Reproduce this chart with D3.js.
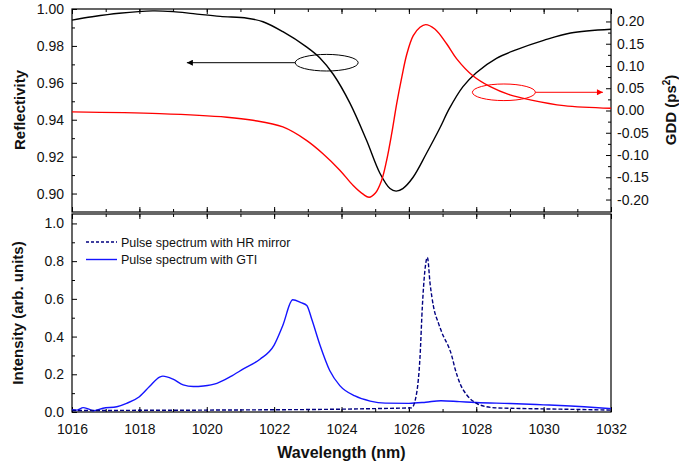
<!DOCTYPE html>
<html>
<head>
<meta charset="utf-8">
<script src="https://cdn.jsdelivr.net/npm/d3@7"></script>
<style>
  body { margin: 0; background: #fff; }
  svg text { font-family: "Liberation Sans", Arial, sans-serif; fill: #111; }
</style>
</head>
<body>
<div id="chart"></div>
<script>
// top panel: mirror reflectivity and GDD
const reflWl  = [1016, 1016.6, 1017.4, 1018.4, 1019.0, 1019.6, 1020.4, 1021.2, 1021.67, 1022.26, 1022.96, 1023.36, 1023.76, 1024.25, 1024.74, 1025.14, 1025.44, 1025.62, 1025.82, 1026.12, 1026.52, 1026.92, 1027.2, 1027.6, 1028.0, 1028.6, 1029.2, 1030.0, 1030.8, 1032];
const reflVal = [0.994, 0.9958, 0.9977, 0.999, 0.9986, 0.9975, 0.996, 0.995, 0.9931, 0.9877, 0.9795, 0.9735, 0.9645, 0.949, 0.929, 0.911, 0.9027, 0.9013, 0.9027, 0.9087, 0.9217, 0.9355, 0.946, 0.9578, 0.9655, 0.9733, 0.978, 0.983, 0.987, 0.989];

const gddWl  = [1016, 1018.6, 1020.6, 1021.37, 1022.26, 1022.96, 1023.45, 1023.95, 1024.34, 1024.64, 1024.82, 1025.0, 1025.19, 1025.34, 1025.49, 1025.64, 1025.79, 1025.94, 1026.13, 1026.33, 1026.5, 1026.77, 1027.12, 1027.42, 1027.9, 1028.4, 1029.0, 1029.6, 1030.6, 1032];
const gddVal = [-0.003, -0.007, -0.015, -0.022, -0.037, -0.067, -0.097, -0.134, -0.168, -0.188, -0.195, -0.186, -0.157, -0.112, -0.052, 0.016, 0.075, 0.127, 0.168, 0.187, 0.193, 0.183, 0.150, 0.116, 0.078, 0.054, 0.035, 0.024, 0.011, 0.005];

// bottom panel: pulse spectra
const hrWl  = [1016, 1017, 1018, 1019, 1020, 1021, 1022, 1023, 1024, 1025, 1025.6, 1026.08, 1026.23, 1026.33, 1026.4, 1026.47, 1026.55, 1026.63, 1026.73, 1026.88, 1027.03, 1027.17, 1027.27, 1027.37, 1027.52, 1027.72, 1028.01, 1028.3, 1028.6, 1029.5, 1030.5, 1031.5, 1032];
const hrVal = [0.008, 0.008, 0.009, 0.009, 0.01, 0.011, 0.012, 0.013, 0.015, 0.018, 0.02, 0.022, 0.10, 0.29, 0.56, 0.74, 0.82, 0.68, 0.56, 0.47, 0.40, 0.35, 0.30, 0.23, 0.15, 0.09, 0.046, 0.028, 0.022, 0.018, 0.015, 0.012, 0.01];

const gtiWl  = [1016, 1016.15, 1016.33, 1016.5, 1016.63, 1016.92, 1017.33, 1017.62, 1018.0, 1018.3, 1018.6, 1018.7, 1019.0, 1019.3, 1019.6, 1019.9, 1020.3, 1020.7, 1021.1, 1021.58, 1022.0, 1022.26, 1022.55, 1022.8, 1022.97, 1023.12, 1023.36, 1023.65, 1023.95, 1024.4, 1024.85, 1025.3, 1026.0, 1026.5, 1026.95, 1027.5, 1028.0, 1029.0, 1030.0, 1030.8, 1031.2, 1032];
const gtiVal = [0.012, 0.01, 0.023, 0.015, 0.007, 0.02, 0.028, 0.046, 0.081, 0.135, 0.185, 0.19, 0.174, 0.144, 0.135, 0.138, 0.152, 0.187, 0.23, 0.28, 0.355, 0.46, 0.595, 0.58, 0.565, 0.49, 0.355, 0.22, 0.14, 0.085, 0.058, 0.047, 0.046, 0.052, 0.06, 0.055, 0.05, 0.045, 0.038, 0.032, 0.028, 0.018];

const wlTicks   = [1016, 1018, 1020, 1022, 1024, 1026, 1028, 1030, 1032];
const reflTicks = [0.90, 0.92, 0.94, 0.96, 0.98, 1.00];
const gddTicks  = [-0.20, -0.15, -0.10, -0.05, 0.00, 0.05, 0.10, 0.15, 0.20];
const intTicks  = [0.0, 0.2, 0.4, 0.6, 0.8, 1.0];
const legendLabels = ["Pulse spectrum with HR mirror", "Pulse spectrum with GTI"];

const W = 679, H = 468;
const left = 72, right = 611;

const x  = d3.scaleLinear().domain([1016, 1032]).range([left, right]);
const yR = d3.scaleLinear().domain([0.89, 1.0]).range([212, 9]);
const yG = d3.scaleLinear().domain([-0.228, 0.228]).range([212, 9]);
const yI = d3.scaleLinear().domain([0, 1.05]).range([412, 214]);

const svg = d3.select("#chart").append("svg")
  .attr("width", W).attr("height", H);

function minorOf(ticks) {
  let out = [];
  for (let i = 0; i < ticks.length - 1; i++) out.push((ticks[i] + ticks[i+1]) / 2);
  return out;
}
const wlMinor = d3.range(1016, 1033, 1);

function drawAxis(axisFn, scale, major, minor, transform, fmt, showLabels, pad) {
  let gMin = svg.append("g").attr("transform", transform)
    .call(axisFn(scale).tickValues(minor).tickSize(-3).tickFormat(""));
  gMin.select(".domain").remove();
  let gMaj = svg.append("g").attr("transform", transform)
    .call(axisFn(scale).tickValues(major).tickSize(-5).tickPadding(pad || 5)
      .tickFormat(showLabels ? fmt : ""));
  gMaj.select(".domain").remove();
  gMaj.selectAll("text").style("font-size", "14px").attr("fill", "#111");
  svg.selectAll(".tick line").attr("stroke", "#000").attr("stroke-width", 1);
}

const f2 = d => d.toFixed(2);
const f1 = d => d.toFixed(1);
const f0 = d => d.toFixed(0);

// top panel axes
drawAxis(d3.axisLeft, yR, reflTicks, minorOf(reflTicks), `translate(${left},0)`, f2, true, 8);
drawAxis(d3.axisRight, yG, gddTicks, minorOf(gddTicks), `translate(${right},0)`, f2, true, 6);
drawAxis(d3.axisTop, x, wlTicks, wlMinor, `translate(0,9)`, f0, false);
drawAxis(d3.axisBottom, x, wlTicks, wlMinor, `translate(0,212)`, f0, false);

// bottom panel axes
drawAxis(d3.axisLeft, yI, intTicks, minorOf(intTicks), `translate(${left},0)`, f1, true, 8);
drawAxis(d3.axisBottom, x, wlTicks, wlMinor, `translate(0,412)`, f0, true, 12);
drawAxis(d3.axisTop, x, wlTicks, wlMinor, `translate(0,214)`, f0, false);

// frames
svg.append("rect").attr("x", left).attr("y", 9).attr("width", right - left).attr("height", 203)
  .attr("fill", "none").attr("stroke", "#000").attr("stroke-width", 1.2);
svg.append("rect").attr("x", left).attr("y", 214).attr("width", right - left).attr("height", 198)
  .attr("fill", "none").attr("stroke", "#000").attr("stroke-width", 1.2);

// curves
function curve(wl, vals, yScale, color, dash, interp) {
  const pts = wl.map((w, i) => [w, vals[i]]);
  const line = d3.line().x(d => x(d[0])).y(d => yScale(d[1])).curve(interp || d3.curveMonotoneX);
  svg.append("path").datum(pts).attr("d", line)
    .attr("fill", "none").attr("stroke", color).attr("stroke-width", 1.4)
    .attr("stroke-dasharray", dash || null);
}
curve(reflWl, reflVal, yR, "#000", null, d3.curveCatmullRom.alpha(0.5));
curve(gddWl, gddVal, yG, "#ff0000", null, d3.curveCatmullRom.alpha(0.5));
curve(gtiWl, gtiVal, yI, "#1414ff");
curve(hrWl, hrVal, yI, "#000080", "4,2");

// arrow markers
const defs = svg.append("defs");
[["arrBlack", "#000"], ["arrRed", "#ff0000"]].forEach(([id, c]) => {
  defs.append("marker").attr("id", id).attr("viewBox", "0 0 10 10")
    .attr("refX", 10).attr("refY", 5).attr("markerWidth", 10).attr("markerHeight", 6)
    .attr("markerUnits", "userSpaceOnUse").attr("orient", "auto")
    .append("path").attr("d", "M0,0L10,5L0,10Z").attr("fill", c);
});

// annotations: ellipse around curve with arrow to its axis
function pointer(cx, cy, tipX, color, marker) {
  const px = x(cx), py = cy;
  svg.append("ellipse").attr("cx", px).attr("cy", py).attr("rx", 31.5).attr("ry", 8.3)
    .attr("fill", "none").attr("stroke", color).attr("stroke-width", 1);
  const startX = tipX < cx ? px - 31.5 : px + 31.5;
  svg.append("line").attr("x1", startX).attr("y1", py).attr("x2", x(tipX)).attr("y2", py)
    .attr("stroke", color).attr("stroke-width", 1).attr("marker-end", `url(#${marker})`);
}
pointer(1023.56, yR(0.9709), 1019.41, "#000", "arrBlack");
pointer(1028.82, yG(0.0409), 1031.76, "#ff0000", "arrRed");

// legend
const legend = svg.append("g").attr("transform", "translate(86,242)");
legendLabels.forEach((lab, i) => {
  const row = legend.append("g").attr("transform", `translate(0,${i * 17.5})`);
  row.append("line").attr("x1", 0).attr("x2", 31).attr("y1", 0).attr("y2", 0)
    .attr("stroke", i === 0 ? "#000080" : "#1414ff").attr("stroke-width", 1.4)
    .attr("stroke-dasharray", i === 0 ? "3,2" : null);
  row.append("text").attr("x", 35).attr("y", 4.5).style("font-size", "12.5px").text(lab);
});

// axis titles
svg.append("text").attr("transform", "translate(25,110) rotate(-90)")
  .attr("text-anchor", "middle").style("font-size", "15px").style("font-weight", "bold")
  .text("Reflectivity");
svg.append("text").attr("transform", "translate(23,313) rotate(-90)")
  .attr("text-anchor", "middle").style("font-size", "15px").style("font-weight", "bold")
  .text("Intensity (arb. units)");
const gddTitle = svg.append("text").attr("transform", "translate(676,110) rotate(-90)")
  .attr("text-anchor", "middle").style("font-size", "15px").style("font-weight", "bold");
gddTitle.append("tspan").text("GDD (ps");
gddTitle.append("tspan").attr("dy", -6).style("font-size", "10px").text("2");
gddTitle.append("tspan").attr("dy", 6).text(")");
svg.append("text").attr("x", (left + right) / 2).attr("y", 458)
  .attr("text-anchor", "middle").style("font-size", "16px").style("font-weight", "bold")
  .text("Wavelength (nm)");
</script>
</body>
</html>
